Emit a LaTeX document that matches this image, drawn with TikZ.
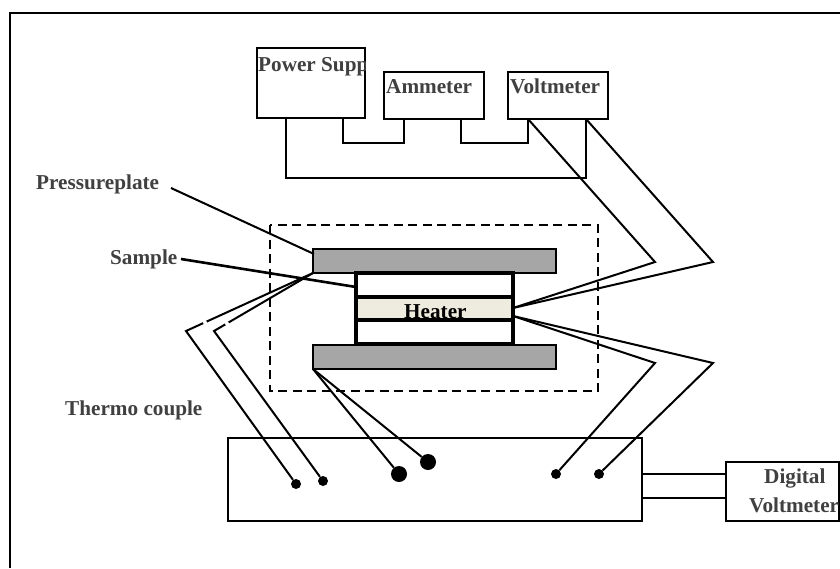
\documentclass[tikz,border=0pt]{standalone}
\usepackage{fontspec}
\setmainfont{Liberation Serif}
\usetikzlibrary{calc}
\definecolor{heaterfill}{HTML}{EEEBDF}
\tikzset{wire/.style={line width=2pt},
         label text/.style={font=\fontsize{21.2}{21.2}\selectfont\bfseries,color=black!75,inner sep=0pt,anchor=base west}}
\begin{document}
\begin{tikzpicture}[x=1pt,y=-1pt,
                    main box/.style={draw,line width=2pt,anchor=north west,inner sep=0pt,outer sep=0pt},
                    plate/.style={main box,fill=black!35,minimum width=243,minimum height=24},
                    dot/.style={circle,fill=black,inner sep=0pt}]
\useasboundingbox (0,0) rectangle (840,568);
\fill[white] (0,0) rectangle (840,568);
\draw[line width=2.5pt] (10,568)--(10,13)--(840,13);

\node[main box,minimum width=108,minimum height=70] (PowerSupply) at (257,48) {};
\node[main box,minimum width=100,minimum height=47] (Ammeter) at (384,72) {};
\node[main box,minimum width=100,minimum height=47] (Voltmeter) at (508,72) {};
\node[main box,minimum width=414,minimum height=83] (Oven) at (228,438) {};
\node[main box,minimum width=113,minimum height=59] (DigitalVoltmeter) at (726,462) {};

\node[plate] (TopPlate) at (313,249) {};
\node[plate] (BottomPlate) at (313,345) {};

\foreach \name/\x/\y/\d in {DotA/296/484/10,DotB/323/481/10,DotC/399/474/16,DotD/428/462/16,DotE/556/474/10,DotF/599/474/10}
   {\node[dot,minimum size=\d] (\name) at (\x,\y) {};}

\coordinate (PowerA) at (286,118);
\coordinate (PowerB) at (343,118);
\coordinate (AmmeterA) at (404,119);
\coordinate (AmmeterB) at (461,119);
\coordinate (VoltA) at (528,119);
\coordinate (VoltB) at (586,119);
\coordinate (HeaterUp) at (513,308);
\coordinate (HeaterDown) at (513,316);
\coordinate (PressureEnd) at (171,188);
\coordinate (PressureTip) at (314,254);
\coordinate (SampleEnd) at (181,259);
\coordinate (SampleTip) at (356,287);

\draw[wire] (PowerB)--(343,143)--(404,143)--(AmmeterA);
\draw[wire] (AmmeterB)--(461,143)--(528,143)--(VoltA);
\draw[wire] (PowerA)--(286,178)--(586,178)--(VoltB);

\draw[wire] (VoltA)--(655,262)--(HeaterUp);
\draw[wire] (VoltB)--(713,262)--(HeaterUp);
\draw[wire] (HeaterDown)--(655,363)--(DotE);
\draw[wire] (HeaterDown)--(713,363)--(DotF);

\draw[wire] (TopPlate.south west)--(186,331)--(DotA);
\draw[wire] (TopPlate.south west)--(214,331)--(DotB);
\fill[white] (205,322.5) circle (2);
\fill[white] (227,323.5) circle (2);
\draw[wire] (BottomPlate.south west)--(DotC);
\draw[wire] (BottomPlate.south west)--(DotD);

\draw[line width=2.5pt,dash pattern=on 9pt off 5.5pt] (270,225) rectangle (598,391);

\fill[white] (356,273) rectangle (513,344);
\fill[heaterfill] (356,297) rectangle (513,320);
\draw[line width=3.5pt] (356,273) rectangle (513,344);
\draw[line width=3.5pt] (356,297)--(513,297);
\draw[line width=3.5pt] (356,320)--(513,320);

\node[label text] (PressureLabel) at (36,189) {Pressureplate};
\node[label text] (SampleLabel) at (110,264) {Sample};
\node[label text] (ThermoLabel) at (65,415) {Thermo couple};
\node[label text,color=black] (HeaterLabel) at (404,318) {Heater};
\begin{scope}
\clip (257,48) rectangle (365,118);
\node[label text] (PowerLabel) at (258,71) {Power Supp};
\end{scope}
\node[label text] (AmmeterLabel) at (386,93) {Ammeter};
\node[label text] (VoltmeterLabel) at (510,93) {Voltmeter};
\node[label text] (DigitalLabel) at (764,483) {Digital};
\node[label text] (VoltLabel) at (749,512) {Voltmeter};

\draw[wire] (PressureEnd)--(PressureTip);
\draw[line width=2.6pt] (SampleEnd)--(SampleTip);
\draw[wire] (Oven.east |- 0,474)--(DigitalVoltmeter.west |- 0,474);
\draw[wire] (Oven.east |- 0,498)--(DigitalVoltmeter.west |- 0,498);
\end{tikzpicture}
\end{document}
